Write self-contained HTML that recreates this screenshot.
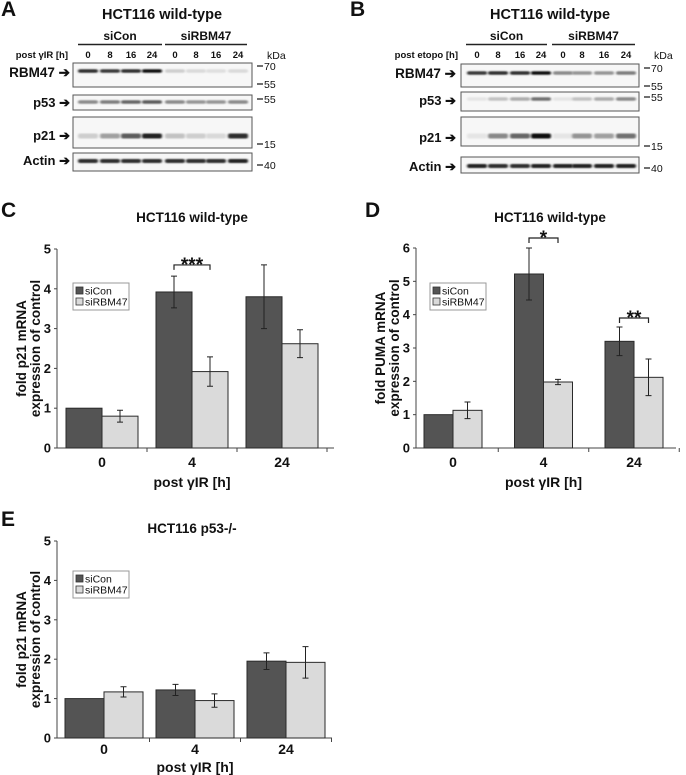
<!DOCTYPE html>
<html><head><meta charset="utf-8">
<style>
html,body{margin:0;padding:0;background:#fff;}
svg{display:block;font-family:"Liberation Sans",sans-serif;}
text{fill:#111;}
</style></head>
<body>
<svg id="fig" width="686" height="775" viewBox="0 0 686 775" xmlns="http://www.w3.org/2000/svg">
<defs>
<filter id="blur" x="-20%" y="-200%" width="140%" height="500%"><feGaussianBlur stdDeviation="1.1 0.7"/></filter>
</defs>
<g id="root"></g>
</svg>
<script>
// ---------- blot data ----------
const lanesA = ["0","8","16","24","0","8","16","24"];
const rbm47A = [0.85,0.8,0.85,0.98,0.15,0.1,0.08,0.1];
const p53A = [0.45,0.5,0.6,0.65,0.45,0.4,0.4,0.45];
const p21A = [0.15,0.35,0.65,0.9,0.2,0.15,0.1,0.85];
const actinA = [0.85,0.85,0.85,0.85,0.85,0.85,0.85,0.9];
const rbm47B = [0.8,0.85,0.85,0.98,0.45,0.4,0.4,0.5];
const p53B = [0.05,0.2,0.3,0.55,0.05,0.2,0.3,0.45];
const p21B = [0.05,0.45,0.6,1,0.05,0.4,0.35,0.55];
const actinB = [0.9,0.85,0.85,0.9,0.9,0.9,0.9,0.9];

// ---------- chart data ----------
const categories = ["0","4","24"];
const cSiCon = [1,3.92,3.8];
const cSiConErr = [0,0.4,0.8];
const cSiRBM = [0.8,1.92,2.62];
const cSiRBMErr = [0.15,0.37,0.35];
const cTicks = [0,1,2,3,4,5];
const dSiCon = [1,5.22,3.2];
const dSiConErr = [0.01,0.78,0.43];
const dSiRBM = [1.13,1.98,2.12];
const dSiRBMErr = [0.25,0.08,0.55];
const dTicks = [0,1,2,3,4,5,6];
const eSiCon = [1,1.22,1.95];
const eSiConErr = [0,0.14,0.21];
const eSiRBM = [1.17,0.95,1.92];
const eSiRBMErr = [0.13,0.17,0.4];
const eTicks = [0,1,2,3,4,5];

const NS="http://www.w3.org/2000/svg";
const root=document.getElementById('root');
function mk(tag,attrs,parent,txt){const e=document.createElementNS(NS,tag);for(const k in attrs)e.setAttribute(k,attrs[k]);if(txt!==undefined)e.textContent=txt;(parent||root).appendChild(e);return e;}

function panelLetter(ch,x,y){
  const t=mk('text',{x:x,y:y,'font-size':21,'font-weight':'bold'},root,ch);
  
  
}

// ---------- blot ----------
function blot(o){
  const g=mk('g',{});
  
  
  let t=mk('text',{x:o.titleX,y:o.titleY,'font-size':14.5,'font-weight':'bold','text-anchor':'middle'},g,'HCT116 wild-type');
  
  
  [['siCon',o.g1],['siRBM47',o.g2]].forEach(([lab,r])=>{
    const tt=mk('text',{x:(r[0]+r[1])/2,y:40,'font-size':12,'font-weight':'bold','text-anchor':'middle'},g,lab);
    
    
    mk('line',{x1:r[0],x2:r[1],y1:44.5,y2:44.5,stroke:'#222','stroke-width':1.6},g);
  });
  const tl=mk('text',{x:o.condX,y:58,'font-size':9.5,'font-weight':'bold','text-anchor':'end'},g,o.cond);
  
  
  o.laneX.forEach((x,i)=>{
    const lt=mk('text',{x:x,y:58,'font-size':9.5,'font-weight':'bold','text-anchor':'middle'},g,lanesA[i]);
    
    
  });
  const kd=mk('text',{x:o.kdaX,y:59,'font-size':10.5,fill:'#333'},g,'kDa');
  
  
  o.rows.forEach(r=>{
    const box=mk('rect',{x:o.bx0,y:r.y0,width:o.bx1-o.bx0,height:r.y1-r.y0,fill:'#f7f7f7',stroke:'#555','stroke-width':1},g);
    
    
    r.vals.forEach((v,i)=>{
      const c=Math.round(240-v*230);
      const b=mk('rect',{x:o.laneX[i]-10,y:r.band-r.h/2,width:20,height:r.h,rx:2,fill:`rgb(${c},${c},${c})`,filter:'url(#blur)'},g);
      
      
    });
    const lb=mk('text',{x:o.labX,y:r.ly,'font-size':r.label==='RBM47'?13.5:13,'font-weight':'bold','text-anchor':'end'},g,r.label+' \u2794');
    
    
    r.marks.forEach(m=>{
      mk('line',{x1:o.bx1+5,x2:o.bx1+11,y1:m[1],y2:m[1],stroke:'#222','stroke-width':1.3},g);
      const mt=mk('text',{x:o.bx1+12,y:m[1]+4,'font-size':10.5,fill:'#333'},g,m[0]);
      
      
    });
  });
}

blot({name:'blot-a',titleX:162,titleY:19,g1:[78,162],g2:[165,247],cond:'post \u03b3IR [h]',condX:68,
 laneX:[88,110,131,152,175,196,216,238],kdaX:267,bx0:73,bx1:252,labX:70,
 rows:[
  {label:'RBM47',y0:63,y1:87,band:71,h:3.5,ly:77,vals:rbm47A,marks:[['70',66],['55',84]]},
  {label:'p53',y0:95,y1:110,band:102,h:3.5,ly:107,vals:p53A,marks:[['55',99]]},
  {label:'p21',y0:117,y1:148,band:136,h:5,ly:140,vals:p21A,marks:[['15',144]]},
  {label:'Actin',y0:153,y1:171,band:161,h:4,ly:165,vals:actinA,marks:[['40',165]]}]});
blot({name:'blot-b',titleX:550,titleY:19,g1:[466,547],g2:[552,635],cond:'post etopo [h]',condX:458,
 laneX:[477,498,520,541,563,582,604,626],kdaX:654,bx0:461,bx1:639,labX:456,
 rows:[
  {label:'RBM47',y0:64,y1:87,band:73,h:3.5,ly:78,vals:rbm47B,marks:[['70',68],['55',86]]},
  {label:'p53',y0:92,y1:111,band:99,h:3.5,ly:105,vals:p53B,marks:[['55',97]]},
  {label:'p21',y0:117,y1:146,band:136,h:5,ly:142,vals:p21B,marks:[['15',146]]},
  {label:'Actin',y0:157,y1:173,band:166,h:4,ly:171,vals:actinB,marks:[['40',168]]}]});
panelLetter('A',1,16);
panelLetter('B',350,16);

// ---------- bar chart ----------
function barChart(o){
  const g=mk('g',{});
  
  
  const yMax=o.ticks[o.ticks.length-1];
  const y=v=>o.y0-(v/yMax)*(o.y0-o.yTop);
  const xc=i=>o.firstC+i*o.gw;
  let t=mk('text',{x:o.titleX,y:o.titleY,'font-size':13.5,'font-weight':'bold','text-anchor':'middle'},g,o.title);
  
  
  const ya=mk('line',{x1:o.ax,x2:o.ax,y1:o.yTop,y2:o.y0,stroke:'#444','stroke-width':1},g);
  
  
  const xa=mk('line',{x1:o.ax,x2:o.axEnd,y1:o.y0,y2:o.y0,stroke:'#444','stroke-width':1},g);
  
  
  o.ticks.forEach(v=>{
    mk('line',{x1:o.ax-3,x2:o.ax,y1:y(v),y2:y(v),stroke:'#444'},g);
    const tt=mk('text',{x:o.ax-6,y:y(v)+4.5,'font-size':13,'font-weight':'bold','text-anchor':'end'},g,String(v));
    
    
  });
  for(let i=1;i<=categories.length;i++){
    const dx=xc(i)-o.gw/2;
    mk('line',{x1:dx,x2:dx,y1:o.y0,y2:o.y0+4,stroke:'#444'},g);
  }
  categories.forEach((c,i)=>{
    const tt=mk('text',{x:xc(i),y:o.y0+o.xlOff,'font-size':14,'font-weight':'bold','text-anchor':'middle'},g,c);
    
    
  });
  const xt=mk('text',{x:xc(1),y:o.y0+o.xtOff,'font-size':14,'font-weight':'bold','text-anchor':'middle'},g,'post \u03b3IR [h]');
  
  
  const yl=mk('text',{transform:`translate(${o.ylX},${(o.y0+o.yTop)/2}) rotate(-90)`,'font-size':13.5,'font-weight':'bold','text-anchor':'middle'},g);
  
  
  mk('tspan',{x:0,dy:0},yl,o.yl1);
  mk('tspan',{x:0,dy:14},yl,'expression of control');
  const series=[[o.s1,o.e1,'#545454','siCon'],[o.s2,o.e2,'#dadada','siRBM47']];
  series.forEach(([vals,errs,col,nm],si)=>{
    vals.forEach((v,i)=>{
      const x=si===0?xc(i)-o.bw:xc(i);
      const r=mk('rect',{x:x,y:y(v),width:o.bw,height:o.y0-y(v),fill:col,stroke:'#2a2a2a','stroke-width':1},g);
      
      
      if(errs[i]>0.02){
        const cx=x+o.bw/2;
        const eb=mk('path',{d:`M${cx},${y(v+errs[i])}V${y(v-errs[i])}M${cx-3},${y(v+errs[i])}h6M${cx-3},${y(v-errs[i])}h6`,stroke:'#222','stroke-width':1,fill:'none'},g);
        
        
      }
    });
  });
  const L=mk('g',{},g);
  
  
  mk('rect',{x:o.lx,y:o.ly,width:56,height:27,fill:'#fff',stroke:'#999'},L);
  series.forEach(([a,b,col,nm],i)=>{
    mk('rect',{x:o.lx+3,y:o.ly+4+i*11,width:7,height:7,fill:col,stroke:'#333','stroke-width':0.8},L);
    const lt=mk('text',{x:o.lx+12,y:o.ly+11.5+i*11,'font-size':10.5,fill:'#333'},L,nm);
    
    
  });
  (o.sig||[]).forEach(s=>{
    const i=s.cat, yy=y(s.at);
    const x1=xc(i)-o.bw/2, x2=xc(i)+o.bw/2;
    const br=mk('path',{d:`M${x1},${yy+5}V${yy}H${x2}V${yy+5}`,stroke:'#222','stroke-width':1.2,fill:'none'},g);
    
    
    const st=mk('text',{x:(x1+x2)/2,y:yy+6,'font-size':19,'font-weight':'bold','text-anchor':'middle'},g,s.txt);
    
    
  });
}

barChart({name:'chart-c',title:'HCT116 wild-type',titleX:192,titleY:222,ticks:cTicks,y0:448,yTop:249,ax:57,axEnd:334,
 firstC:102,gw:90,bw:36,s1:cSiCon,e1:cSiConErr,s2:cSiRBM,e2:cSiRBMErr,ylX:26,yl1:'fold p21 mRNA',lx:73,ly:283,
 xlOff:19,xtOff:39,sig:[{cat:1,at:4.6,txt:'***'}]});
barChart({name:'chart-d',title:'HCT116 wild-type',titleX:550,titleY:222,ticks:dTicks,y0:448,yTop:248,ax:416,axEnd:676,
 firstC:453,gw:90.5,bw:29,s1:dSiCon,e1:dSiConErr,s2:dSiRBM,e2:dSiRBMErr,ylX:385,yl1:'fold PUMA mRNA',lx:430,ly:283,
 xlOff:19,xtOff:39,sig:[{cat:1,at:6.3,txt:'*'},{cat:2,at:3.9,txt:'**'}]});
barChart({name:'chart-e',title:'HCT116 p53-/-',titleX:192,titleY:533,ticks:eTicks,y0:738,yTop:541,ax:57,axEnd:332,
 firstC:104,gw:91,bw:39,s1:eSiCon,e1:eSiConErr,s2:eSiRBM,e2:eSiRBMErr,ylX:26,yl1:'fold p21 mRNA',lx:73,ly:571,
 xlOff:16,xtOff:34});
panelLetter('C',1,217);
panelLetter('D',365,217);
panelLetter('E',1,526);
</script>
</body></html>
